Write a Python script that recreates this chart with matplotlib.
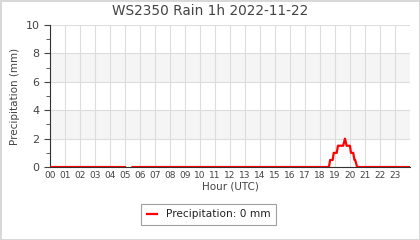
import numpy as np
import matplotlib
matplotlib.use("Agg")
import matplotlib.pyplot as plt
from matplotlib.ticker import MultipleLocator

# rain over the day, hour (UTC) vs mm; nan marks the gap in the record
hours = [0.0, 5.0, 5.01, 5.5, 18.6, 18.68, 18.85, 18.92, 19.12, 19.2, 19.55,
         19.67, 19.78, 20.0, 20.07, 20.22, 20.3, 20.35, 20.48, 24.0]
rain = [0, 0, np.nan, 0, 0, 0.5, 0.5, 1.0, 1.0, 1.5, 1.5,
        2.0, 1.5, 1.5, 1.0, 1.0, 0.5, 0.5, 0, 0]
hour_labels = ["%02d" % h for h in range(24)]
bands = [(2, 4), (6, 8)]
total = 0

fig = plt.figure(figsize=(4.2, 2.4), dpi=100)
fig.patch.set_edgecolor("#d8d8d8")
fig.patch.set_linewidth(1.0)
ax = fig.add_axes([0.119, 0.304, 0.857, 0.592])

for lo, hi in bands:
    ax.axhspan(lo, hi, color="#f5f5f5", zorder=0, lw=0)

ax.plot(hours, rain, color="#ff0000", lw=1.6, zorder=3,
        label="Precipitation: %d mm" % total)

ax.set_xlim(0, 24)
ax.set_ylim(0, 10)
ax.set_xticks(range(24))
ax.set_xticklabels(hour_labels)
ax.yaxis.set_major_locator(MultipleLocator(2))
ax.yaxis.set_minor_locator(MultipleLocator(1))
ax.grid(True, color="#dddddd", lw=0.8, zorder=1)
ax.set_axisbelow(True)

for s in ["top", "right"]:
    ax.spines[s].set_visible(False)
ax.spines["left"].set_color("#333333")
ax.spines["bottom"].set_color("#333333")

ax.tick_params(axis="x", length=0, labelsize=6.5, colors="#444444", pad=3)
ax.tick_params(axis="y", which="major", length=4, labelsize=8, colors="#444444")
ax.tick_params(axis="y", which="minor", length=3, colors="#444444")

fig.text(0.5, 0.955, "WS2350 Rain 1h 2022-11-22", fontsize=9.8, color="#444444",
         ha="center", va="center")
ax.set_ylabel("Precipitation (mm)", fontsize=7.5, color="#444444")
ax.set_xlabel("Hour (UTC)", fontsize=7.5, color="#444444", labelpad=1)

leg = ax.legend(loc="upper center", bbox_to_anchor=(0.44, -0.22), fontsize=7.6,
                frameon=True, fancybox=False, handlelength=1.0, borderpad=0.55)
leg.get_frame().set_edgecolor("#888888")
leg.get_frame().set_linewidth(0.8)
for t in leg.get_texts():
    t.set_color("#222222")

fig.savefig("out.png", dpi=100, edgecolor=fig.get_edgecolor())
